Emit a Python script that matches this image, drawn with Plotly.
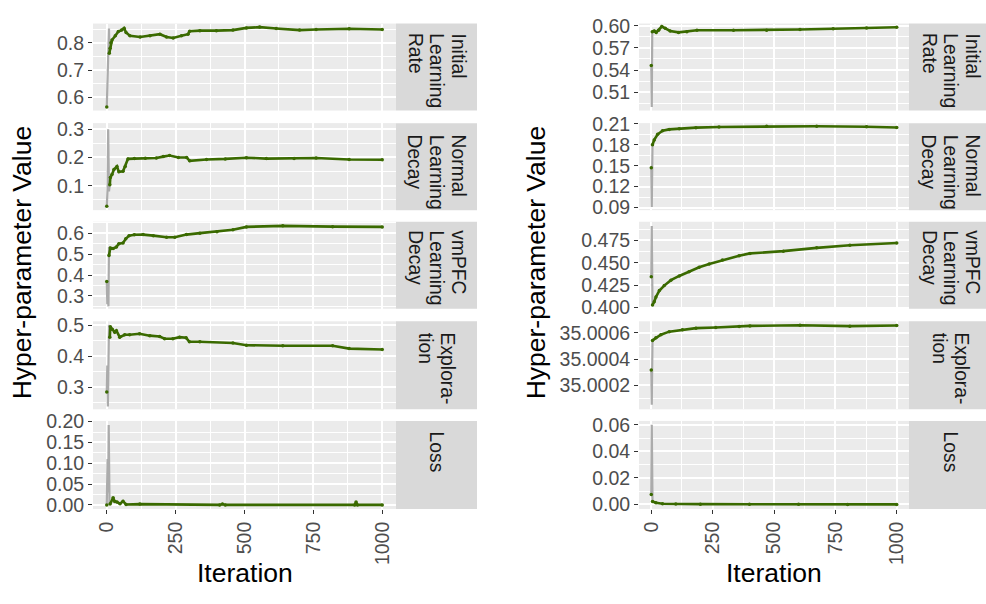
import plotly.graph_objects as go

FONT = "Liberation Sans, Arial, Helvetica, sans-serif"

# ---------------- data ----------------
ITER_TICKS = [0, 250, 500, 750, 1000]
ITER_TICK_TEXT = ["0", "250", "500", "750", "1000"]
ITER_MINOR = [125, 375, 625, 875]
STRIP_LABELS = [["Initial", "Learning", "Rate"], ["Normal", "Learning", "Decay"],
                ["vmPFC", "Learning", "Decay"], ["Explora-", "tion"], ["Loss"]]
Y_TITLE = "Hyper-parameter Value"
X_TITLE = "Iteration"

# Left column: green (running) series
L_LR_IT = [0, 9, 12, 15, 19, 31, 42, 54, 63, 70, 84, 121, 157, 193, 217, 241, 271, 295, 301, 338, 398, 458, 507, 555, 615, 700, 760, 880, 1000]
L_LR_V = [0.565, 0.761, 0.78, 0.80, 0.81, 0.825, 0.841, 0.846, 0.853, 0.837, 0.825, 0.821, 0.825, 0.831, 0.821, 0.817, 0.825, 0.831, 0.842, 0.844, 0.844, 0.846, 0.854, 0.857, 0.852, 0.846, 0.848, 0.851, 0.848]
L_ND_IT = [0, 11, 13, 19, 26, 37, 44, 59, 67, 77, 100, 140, 180, 205, 228, 260, 290, 301, 362, 430, 507, 579, 680, 760, 880, 1000]
L_ND_V = [0.027, 0.103, 0.129, 0.140, 0.157, 0.168, 0.149, 0.151, 0.168, 0.195, 0.196, 0.197, 0.198, 0.203, 0.207, 0.200, 0.200, 0.188, 0.193, 0.195, 0.199, 0.196, 0.196, 0.198, 0.193, 0.192]
L_VD_IT = [0, 8, 13, 23, 35, 44, 59, 69, 81, 100, 132, 169, 217, 247, 289, 338, 400, 458, 507, 639, 820, 1000]
L_VD_V = [0.369, 0.494, 0.53, 0.527, 0.535, 0.55, 0.554, 0.574, 0.589, 0.593, 0.594, 0.589, 0.581, 0.581, 0.594, 0.601, 0.608, 0.617, 0.631, 0.636, 0.632, 0.631]
L_EX_IT = [0, 11, 13, 20, 29, 35, 47, 65, 83, 119, 156, 192, 210, 240, 264, 288, 300, 338, 458, 507, 639, 820, 880, 1000]
L_EX_V = [0.284, 0.462, 0.496, 0.488, 0.478, 0.483, 0.462, 0.470, 0.470, 0.473, 0.467, 0.464, 0.457, 0.457, 0.462, 0.460, 0.447, 0.447, 0.443, 0.436, 0.434, 0.434, 0.425, 0.422]
L_LS_IT = [0, 12, 23, 29, 37, 48, 59, 70, 120, 410, 420, 430, 900, 905, 910, 1000]
L_LS_V = [0.0, 0.002, 0.017, 0.008, 0.007, 0.003, 0.009, 0.001, 0.002, 0.0, 0.002, 0.0, 0.0, 0.007, 0.0, 0.0]

# Left column: grey (raw early samples)
L_LR_G_IT = [0, 8, 10]
L_LR_G_V = [0.565, 0.852, 0.76]
L_ND_G_IT = [0, 3, 5, 8, 11]
L_ND_G_V = [0.026, 0.09, 0.30, 0.08, 0.103]
L_VD_G_IT = [0, 2, 4, 6, 8, 9]
L_VD_G_V = [0.369, 0.26, 0.35, 0.25, 0.535, 0.494]
L_EX_G_IT = [0, 2, 4, 6, 8, 11]
L_EX_G_V = [0.284, 0.37, 0.237, 0.33, 0.502, 0.462]
L_LS_G_IT = [0, 3, 5, 7, 10]
L_LS_G_V = [0.0, 0.11, 0.03, 0.192, 0.0]

# Right column: green series
R_LR_IT = [0, 4, 12, 20, 30, 43, 57, 77, 111, 145, 186, 335, 470, 606, 741, 877, 1000]
R_LR_V = [0.546, 0.592, 0.593, 0.591, 0.594, 0.599, 0.5965, 0.593, 0.591, 0.592, 0.594, 0.594, 0.594, 0.595, 0.596, 0.597, 0.598]
R_ND_IT = [0, 5, 12, 26, 46, 73, 114, 182, 276, 470, 674, 877, 1000]
R_ND_V = [0.147, 0.180, 0.187, 0.195, 0.200, 0.202, 0.203, 0.2045, 0.2054, 0.2065, 0.2066, 0.2058, 0.2048]
R_VD_IT = [0, 5, 12, 19, 33, 53, 80, 114, 154, 195, 236, 290, 358, 402, 538, 674, 809, 1000]
R_VD_V = [0.4345, 0.4028, 0.4064, 0.4118, 0.419, 0.4245, 0.4306, 0.4353, 0.440, 0.445, 0.4486, 0.453, 0.458, 0.4605, 0.463, 0.4667, 0.4696, 0.4722]
R_EX_IT = [0, 5, 19, 39, 73, 127, 182, 263, 358, 402, 606, 809, 1000]
R_EX_V = [35.000316, 35.000543, 35.000563, 35.000587, 35.00061, 35.000624, 35.000637, 35.000642, 35.00065, 35.000654, 35.000659, 35.000652, 35.000657]
R_LS_IT = [0, 5, 19, 46, 100, 200, 400, 600, 800, 1000]
R_LS_V = [0.0075, 0.0022, 0.0012, 0.0005, 0.0003, 0.0002, 0.0001, 0.0001, 0.0, 0.0]

# Right column: grey series
R_LR_G_IT = [0, 2, 4]
R_LR_G_V = [0.546, 0.490, 0.591]
R_ND_G_IT = [0, 2, 5]
R_ND_G_V = [0.147, 0.091, 0.180]
R_VD_G_IT = [0, 2, 5]
R_VD_G_V = [0.4345, 0.491, 0.4028]
R_EX_G_IT = [0, 2, 5]
R_EX_G_V = [35.000316, 35.00005, 35.000543]
R_LS_G_IT = [0, 2, 5]
R_LS_G_V = [0.0075, 0.060, 0.0022]

# Y axis ticks per panel: (tick values, tick labels, minor grid values, range)
L_TICKS = [
    ([0.6, 0.7, 0.8], ["0.6", "0.7", "0.8"], [0.55, 0.65, 0.75, 0.85], [0.552, 0.870]),
    ([0.1, 0.2, 0.3], ["0.1", "0.2", "0.3"], [0.05, 0.15, 0.25], [0.0134, 0.3216]),
    ([0.3, 0.4, 0.5, 0.6], ["0.3", "0.4", "0.5", "0.6"], [0.25, 0.35, 0.45, 0.55, 0.65], [0.2384, 0.6556]),
    ([0.3, 0.4, 0.5], ["0.3", "0.4", "0.5"], [0.25, 0.35, 0.45], [0.2277, 0.5135]),
    ([0.0, 0.05, 0.10, 0.15, 0.20], ["0.00", "0.05", "0.10", "0.15", "0.20"], [0.025, 0.075, 0.125, 0.175], [-0.0096, 0.2016]),
]
R_TICKS = [
    ([0.51, 0.54, 0.57, 0.60], ["0.51", "0.54", "0.57", "0.60"], [0.495, 0.525, 0.555, 0.585], [0.4851, 0.603]),
    ([0.09, 0.12, 0.15, 0.18, 0.21], ["0.09", "0.12", "0.15", "0.18", "0.21"], [0.105, 0.135, 0.165, 0.195], [0.0863, 0.211]),
    ([0.4, 0.425, 0.45, 0.475], ["0.400", "0.425", "0.450", "0.475"], [0.4125, 0.4375, 0.4625, 0.4875], [0.3986, 0.4959]),
    ([35.0002, 35.0004, 35.0006], ["35.0002", "35.0004", "35.0006"], [35.0001, 35.0003, 35.0005], [35.000015, 35.000689]),
    ([0.0, 0.02, 0.04, 0.06], ["0.00", "0.02", "0.04", "0.06"], [0.01, 0.03, 0.05], [-0.0034, 0.0629]),
]

LEFT = [(L_LR_IT, L_LR_V, L_LR_G_IT, L_LR_G_V), (L_ND_IT, L_ND_V, L_ND_G_IT, L_ND_G_V),
        (L_VD_IT, L_VD_V, L_VD_G_IT, L_VD_G_V), (L_EX_IT, L_EX_V, L_EX_G_IT, L_EX_G_V),
        (L_LS_IT, L_LS_V, L_LS_G_IT, L_LS_G_V)]
RIGHT = [(R_LR_IT, R_LR_V, R_LR_G_IT, R_LR_G_V), (R_ND_IT, R_ND_V, R_ND_G_IT, R_ND_G_V),
         (R_VD_IT, R_VD_V, R_VD_G_IT, R_VD_G_V), (R_EX_IT, R_EX_V, R_EX_G_IT, R_EX_G_V),
         (R_LS_IT, R_LS_V, R_LS_G_IT, R_LS_G_V)]

# ---------------- layout geometry (pixels) ----------------
W, H = 986, 604
COLS = [(93, 396, 477), (639, 909, 992)]  # panel left, panel right, strip right
YTITLE_X = [22, 536]
ROWS = [(14, 104), (117, 207), (219, 309), (322, 413), (425, 516)]
STRIP_START = [23, 128, 227, 333, 435]
LINE_STEP = 21.7

GREEN = "#3a6a00"
GREY = "#ababab"
TICK_SIZE = 19.5
STRIP_SIZE = 19.3
TITLE_SIZE = 26.5

fig = go.Figure()
layout = dict(
    width=W, height=H, margin=dict(l=0, r=0, t=0, b=0),
    paper_bgcolor="white", plot_bgcolor="#EBEBEB", showlegend=False,
    font=dict(family=FONT), shapes=[], annotations=[],
)

idx = 0
for c, (col_data, col_ticks) in enumerate([(LEFT, L_TICKS), (RIGHT, R_TICKS)]):
    px0, px1, sx1 = COLS[c]
    for r in range(5):
        idx += 1
        top, bot = ROWS[r]
        it, v, git, gv = col_data[r]
        tv, tt, mv, yr = col_ticks[r]
        xname = "x" if idx == 1 else f"x{idx}"
        yname = "y" if idx == 1 else f"y{idx}"
        fig.add_trace(go.Scatter(x=git, y=gv, mode="lines", xaxis=xname, yaxis=yname,
                                 line=dict(color=GREY, width=2.2), hoverinfo="skip"))
        gx = [it[0], None] + it[1:]
        gy = [v[0], None] + v[1:]
        fig.add_trace(go.Scatter(x=gx, y=gy, mode="lines+markers", xaxis=xname, yaxis=yname,
                                 connectgaps=False,
                                 line=dict(color=GREEN, width=2.6),
                                 marker=dict(color=GREEN, size=3.5)))
        bottom = (r == 4)
        xkey = "xaxis" if idx == 1 else f"xaxis{idx}"
        ykey = "yaxis" if idx == 1 else f"yaxis{idx}"
        layout[xkey] = dict(
            domain=[px0 / W, px1 / W], anchor=yname, range=[-50, 1050],
            tickmode="array", tickvals=ITER_TICKS, ticktext=ITER_TICK_TEXT,
            showticklabels=bottom, ticks="outside" if bottom else "",
            ticklen=4, tickwidth=1.2, tickcolor="#333333", tickangle=-90,
            tickfont=dict(size=TICK_SIZE, color="#4D4D4D", family=FONT),
            showgrid=True, gridcolor="white", gridwidth=1.6, zeroline=False, showline=False,
            minor=dict(tickmode="array", tickvals=ITER_MINOR, showgrid=True,
                       gridcolor="white", gridwidth=0.8, ticks=""),
        )
        layout[ykey] = dict(
            domain=[1 - bot / H, 1 - top / H], anchor=xname, range=yr,
            tickmode="array", tickvals=tv, ticktext=tt,
            ticks="outside", ticklen=4, tickwidth=1.2, tickcolor="#333333",
            tickfont=dict(size=TICK_SIZE, color="#4D4D4D", family=FONT),
            showgrid=True, gridcolor="white", gridwidth=1.6, zeroline=False, showline=False,
            minor=dict(tickmode="array", tickvals=mv, showgrid=True,
                       gridcolor="white", gridwidth=0.8, ticks=""),
        )
        # facet strip
        layout["shapes"].append(dict(type="rect", xref="paper", yref="paper",
                                     x0=px1 / W, x1=sx1 / W, y0=1 - bot / H, y1=1 - top / H,
                                     fillcolor="#D9D9D9", line=dict(width=0), layer="below"))
        lines = STRIP_LABELS[r]
        n = len(lines)
        xc = (px1 + sx1) / 2
        for k, txt in enumerate(lines):
            lx = xc + ((n - 1) / 2 - k) * LINE_STEP
            layout["annotations"].append(dict(
                text=txt, xref="paper", yref="paper",
                x=lx / W, y=1 - STRIP_START[r] / H, xanchor="center", yanchor="top",
                textangle=90, showarrow=False, borderpad=0,
                font=dict(size=STRIP_SIZE, color="#1A1A1A", family=FONT)))
    # axis titles
    layout["annotations"].append(dict(
        text=Y_TITLE, xref="paper", yref="paper",
        x=YTITLE_X[c] / W, y=1 - 262 / H, xanchor="center", yanchor="middle",
        textangle=-90, showarrow=False, font=dict(size=TITLE_SIZE, color="black", family=FONT)))
    layout["annotations"].append(dict(
        text=X_TITLE, xref="paper", yref="paper",
        x=((px0 + px1) / 2) / W, y=1 - 582 / H, xanchor="center", yanchor="middle",
        showarrow=False, font=dict(size=TITLE_SIZE, color="black", family=FONT)))

fig.update_layout(**layout)
fig.write_html("out.html")
